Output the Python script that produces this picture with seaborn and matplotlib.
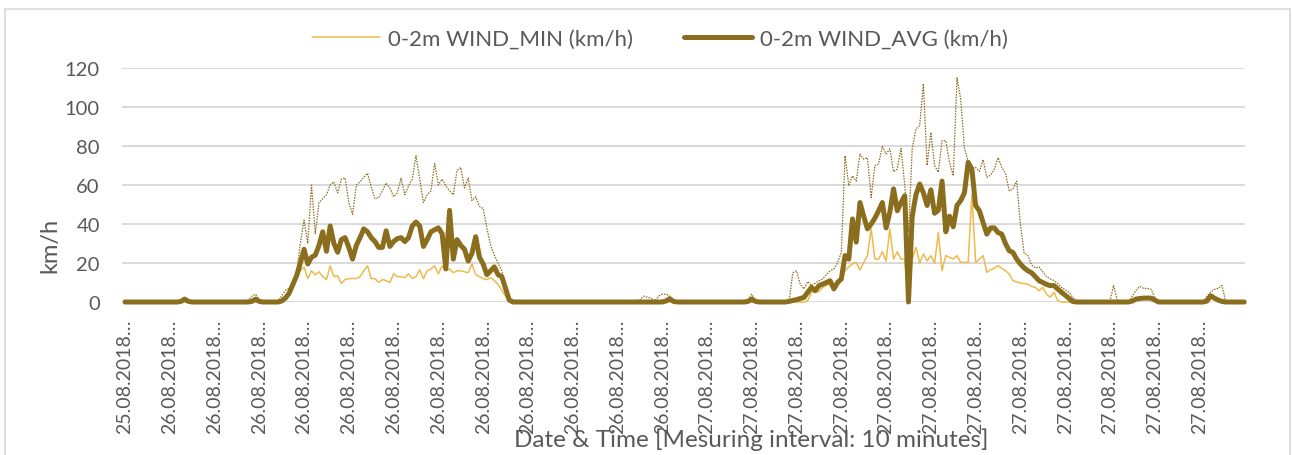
import matplotlib
matplotlib.use("Agg")
import matplotlib.pyplot as plt
import seaborn as sns
import pandas as pd
from matplotlib.patches import Rectangle

# ---------------- data (10-minute samples, km/h) ----------------
wind_min = [
    0, 0, 0, 0, 0, 0, 0, 0, 0, 0, 0, 0, 0, 0, 0, 0, 0, 0, 0, 0,
    0, 0, 0, 0, 0, 0, 0, 0, 0, 0, 0, 0, 0, 0, 0, 0, 0, 0, 0, 0,
    0, 0, 0, 1, 4, 8, 12, 16, 18, 12, 16, 14, 15.5, 13, 11.5, 18.5, 13, 13.5, 9.5, 11.5,
    12, 12, 12, 13, 16, 18.5, 12, 12, 10, 11.5, 11, 10, 14.5, 13, 13, 12.5, 14.5, 12, 13, 16.5,
    12, 16, 17, 18.5, 14.5, 18.5, 16, 17, 15, 16, 16, 15.5, 15, 19.5, 14, 13, 12, 11.5, 12.5, 11,
    9, 6, 3, 0.5, 0, 0, 0, 0, 0, 0, 0, 0, 0, 0, 0, 0, 0, 0, 0, 0,
    0, 0, 0, 0, 0, 0, 0, 0, 0, 0, 0, 0, 0, 0, 0, 0, 0, 0, 0, 0,
    0, 0, 0, 0, 0, 0, 0, 0, 0, 0, 0, 0, 0, 0, 0, 0, 0, 0, 0, 0,
    0, 0, 0, 0, 0, 0, 0, 0, 0, 0, 0, 0, 0, 0, 0, 0, 0, 0, 0, 0,
    0, 0, 0, 0.7, 5, 5.5, 5.3, 7.5, 8.5, 9.2, 6.5, 10, 11.5, 16, 18, 19.5, 20.3, 16.4, 20.3, 23.8,
    37.5, 22, 22, 25.8, 21, 37.5, 22, 25.8, 22, 22, 0, 22, 28, 20, 24.6, 21, 23.8, 19.8, 35.6, 16,
    23.8, 22.9, 22, 23.8, 20.3, 20.3, 20.3, 55, 20.3, 22, 23.8, 15.2, 16.5, 17.3, 18.6, 17.3, 16, 14.4, 11, 10.3,
    9.7, 9.4, 9.2, 8, 7.5, 5.8, 7.5, 4, 2.4, 5, 0.7, 0, 0, 0, 0, 0, 0, 0, 0, 0,
    0, 0, 0, 0, 0, 0, 0, 0, 0, 0, 0, 1, 1.5, 1.5, 1.5, 1.5, 0.5, 0, 0, 0,
    0, 0, 0, 0, 0, 0, 0, 0, 0, 0, 0, 2, 1.5, 0.5, 0, 0, 0, 0, 0, 0,
    0,
]

wind_avg = [
    0, 0, 0, 0, 0, 0, 0, 0, 0, 0, 0, 0, 0, 0, 0, 0.3, 1.5, 0.3, 0, 0,
    0, 0, 0, 0, 0, 0, 0, 0, 0, 0, 0, 0, 0, 0, 0.3, 1.5, 0.3, 0, 0, 0,
    0, 0, 0.5, 2, 4.5, 9, 13.5, 20, 27, 19.5, 23, 24, 29, 36, 26, 39, 30, 25.5, 32, 33,
    28, 22, 29, 33, 37.5, 36, 33, 31, 28, 28, 36.5, 28.5, 31, 32.5, 33, 31, 33, 39, 41, 39,
    28.5, 32, 36, 37, 38, 35, 17, 47, 22, 32, 29, 27, 21, 25, 33.5, 23, 19.5, 14, 16, 18,
    14, 13, 7, 1, 0, 0, 0, 0, 0, 0, 0, 0, 0, 0, 0, 0, 0, 0, 0, 0,
    0, 0, 0, 0, 0, 0, 0, 0, 0, 0, 0, 0, 0, 0, 0, 0, 0, 0, 0, 0,
    0, 0, 0, 0, 0, 0.5, 1.7, 0.3, 0, 0, 0, 0, 0, 0, 0, 0, 0, 0, 0, 0,
    0, 0, 0, 0, 0, 0, 0, 0.3, 1.5, 0.3, 0, 0, 0, 0, 0, 0, 0, 0, 0.3, 0.8,
    1.2, 1.8, 2.4, 5, 7.5, 5.8, 8.4, 9.2, 10, 10.9, 6.7, 10, 11.8, 23.8, 22, 42.6, 30.7, 51, 44, 37.5,
    40, 43, 46.8, 51, 38, 46, 58, 46.8, 51, 54.5, 0, 44, 55, 60.5, 56, 49.5, 57.5, 45.5, 47, 62,
    36, 44, 38.6, 49.5, 52, 56, 71.6, 68, 49.5, 46.8, 40.8, 34.8, 38, 38, 35.6, 34.8, 30, 26.3, 25.4, 22,
    19.5, 17.5, 16, 15, 13, 10.9, 10, 9, 8.4, 8.4, 6.7, 5, 3.5, 1.9, 0.3, 0, 0, 0, 0, 0,
    0, 0, 0, 0, 0, 0, 0, 0, 0, 0, 0.5, 1.5, 1.8, 2, 2, 2, 1, 0, 0, 0,
    0, 0, 0, 0, 0, 0, 0, 0, 0, 0, 0.5, 3.2, 2, 1, 0.3, 0, 0, 0, 0, 0,
    0,
]

wind_max = [
    0, 0, 0, 0, 0, 0, 0, 0, 0, 0, 0, 0, 0, 0, 0, 0.5, 1.5, 0.5, 0, 0,
    0, 0, 0, 0, 0, 0, 0, 0, 0, 0, 0, 0, 0, 1, 3, 4, 1, 0, 0, 0,
    0, 0.5, 3, 6, 7, 10, 15, 30, 42, 30, 60, 35, 51, 53, 55, 60, 61.6, 56, 63, 63.6,
    51, 45, 60, 61.6, 64, 66, 59, 53, 53.5, 57, 61, 58.5, 54, 56, 63.5, 55, 59.5, 63, 75, 63,
    51, 55, 57, 71, 60, 63, 59.5, 57, 55, 67.5, 69, 58.5, 63.6, 52, 54, 49, 48, 38, 29, 24,
    20, 16, 9, 1.5, 0, 0, 0, 0, 0, 0, 0, 0, 0, 0, 0, 0, 0, 0, 0, 0,
    0, 0, 0, 0, 0, 0, 0, 0, 0, 0, 0, 0, 0, 0, 0, 0, 0, 0, 1, 3,
    2.5, 2, 0.5, 3, 4, 4, 3, 0.3, 0, 0, 0, 0, 0, 0, 0, 0, 0, 0, 0, 0,
    0, 0, 0, 0, 0, 0, 0, 1, 4, 0.5, 0, 0, 0, 0, 0, 0, 0, 0, 0.5, 15,
    16, 9, 6.7, 10.5, 8.4, 9.7, 10.9, 11.8, 14, 16, 16.9, 20.3, 25.4, 75, 59.6, 64.7, 62, 75.9, 73.3, 74,
    53.6, 70, 70.8, 79.8, 75.9, 78.5, 66.8, 68.2, 78.8, 60, 35.6, 78.5, 88.7, 90.4, 112, 70, 87, 70, 66.5, 82.7,
    82.7, 71.6, 64.7, 115, 104, 79, 72, 69, 69, 67, 73, 64, 65, 68, 74, 69, 66, 57, 58, 62,
    40, 25, 24, 19, 17.5, 18, 15.5, 13, 11.8, 11, 9.5, 7.5, 6.2, 5, 2.5, 0, 0, 0, 0, 0,
    0, 0, 0, 0, 0.5, 8.5, 0.5, 0, 0, 0, 3, 6, 8, 7, 7, 6.5, 2.5, 0, 0, 0,
    0, 0, 0, 0, 0, 0, 0, 0, 0, 0, 3, 5, 6.5, 7, 8.5, 0.5, 0, 0, 0, 0,
    0,
]

tick_labels = (["25.08.2018\u2026"] + ["26.08.2018\u2026"] * 12
               + ["27.08.2018\u2026"] * 12)

legend_min = "0-2m WIND_MIN (km/h)"
legend_avg = "0-2m WIND_AVG (km/h)"
x_title = "Date & Time [Mesuring interval: 10 minutes]"
y_title = "km/h"

# ---------------- styling ----------------
sns.set_style("white")
plt.rcParams["font.family"] = ["Lato", "DejaVu Sans"]
TEXT = "#595959"
GRID = "#D9D9D9"
C_MIN = "#EDBA4C"
C_AVG = "#8B6D1E"
C_MAX = "#8B6D1E"
FS = 14

df = pd.DataFrame({
    "idx": list(range(len(wind_avg))),
    "min": wind_min,
    "avg": wind_avg,
    "max": wind_max,
})

W, H = 1292, 456
fig = plt.figure(figsize=(W / 100, H / 100), dpi=100)
left, right, bottom, top = 122, 1245, 303, 69
ax = fig.add_axes([left / W, 1 - bottom / H, (right - left) / W, (bottom - top) / H])

sns.lineplot(data=df, x="idx", y="min", ax=ax, color=C_MIN, lw=1.1,
             label=legend_min, clip_on=False)
sns.lineplot(data=df, x="idx", y="avg", ax=ax, color=C_AVG, lw=3.6,
             label=legend_avg, clip_on=False, solid_capstyle="round",
             solid_joinstyle="round")
sns.lineplot(data=df, x="idx", y="max", ax=ax, color=C_MAX, lw=0.9,
             linestyle=(0, (1.2, 1.0)), clip_on=False, legend=False)

ax.set_xlim(-0.8, 300.2)
ax.set_ylim(0, 120)
ax.set_yticks([0, 20, 40, 60, 80, 100, 120])
ax.yaxis.grid(True, color=GRID, lw=1.4)
ax.xaxis.grid(False)
ax.set_axisbelow(True)
for s in ax.spines.values():
    s.set_visible(False)

ticks = list(range(0, 301, 12))
ax.set_xticks(ticks)
ax.set_xticklabels(tick_labels + [""], rotation=90, ha="center", va="top")
ax.tick_params(axis="x", length=5, width=1.2, color=GRID, pad=7,
               labelsize=FS, labelcolor=TEXT, direction="out")
ax.tick_params(axis="y", length=0, pad=16, labelsize=FS + 0.5, labelcolor=TEXT)

ax.set_xlabel(x_title, fontsize=17.5, color=TEXT)
ax.xaxis.set_label_coords((751 - left) / (right - left), (303 - 440) / (303 - 69))
ax.xaxis.label.set_va("center")
ax.set_ylabel(y_title, fontsize=17, color=TEXT)
ax.yaxis.set_label_coords((50 - left) / (right - left), (303 - 245) / (303 - 69))
ax.yaxis.label.set_va("center")

ax.legend_.remove()
handles, labels = ax.get_legend_handles_labels()
leg = fig.legend(handles[:2], labels[:2], loc="center", ncol=2,
                 bbox_to_anchor=(660 / W, 1 - 40 / H), frameon=False,
                 fontsize=16, handlelength=3.06, handletextpad=0.36,
                 columnspacing=2.3)
for t in leg.get_texts():
    t.set_color(TEXT)

# chart area border
fig.patches.append(Rectangle((5 / W, -0.05), (1290 - 5) / W, 1.05 - 10 / H,
                             transform=fig.transFigure, fill=False,
                             edgecolor=GRID, lw=1.2))

fig.savefig("out.png", dpi=100)
